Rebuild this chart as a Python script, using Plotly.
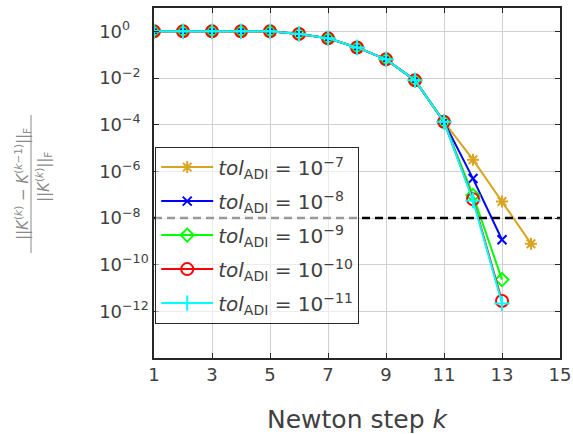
import plotly.graph_objects as go

steps_base = [1, 2, 3, 4, 5, 6, 7, 8, 9, 10, 11]
# log10 of relative change for the common part of the iteration
base_log = [0.0, 0.0, 0.0, 0.0, 0.0, -0.11, -0.3, -0.69, -1.2, -2.1, -3.88]

tail_steps = {
    "1e-7": [12, 13, 14],
    "1e-8": [12, 13],
    "1e-9": [12, 13],
    "1e-10": [12, 13],
    "1e-11": [12, 13],
}
tail_log = {
    "1e-7": [-5.5, -7.29, -9.1],
    "1e-8": [-6.31, -8.93],
    "1e-9": [-7.03, -10.64],
    "1e-10": [-7.2, -11.56],
    "1e-11": [-7.25, -11.66],
}
exponents = {"1e-7": "7", "1e-8": "8", "1e-9": "9", "1e-10": "10", "1e-11": "11"}
colors = {"1e-7": "#D9A521", "1e-8": "#0000FF", "1e-9": "#00FF00",
          "1e-10": "#FF0000", "1e-11": "#00FFFF"}
symbols = {"1e-7": "asterisk-open", "1e-8": "x-thin-open", "1e-9": "diamond-open",
           "1e-10": "circle-open", "1e-11": "cross-thin-open"}
msize = {"1e-7": 10, "1e-8": 9, "1e-9": 10, "1e-10": 12, "1e-11": 11}

threshold = 1e-8
x_ticks = [1, 3, 5, 7, 9, 11, 13, 15]
y_exps = [0, -2, -4, -6, -8, -10, -12]
# padding in superscripts so the tick labels look left-aligned like the reference
y_pad = {0: "\u2007\u2007\u2009", -2: "\u2007", -4: "\u2007", -6: "\u2007", -8: "\u2007", -10: "", -12: ""}

fig = go.Figure()

for key in ["1e-7", "1e-8", "1e-9", "1e-10", "1e-11"]:
    xs = steps_base + tail_steps[key]
    ys = [10 ** v for v in base_log + tail_log[key]]
    fig.add_trace(go.Scatter(
        x=xs, y=ys, mode="lines+markers", legendgroup=key,
        name="<i>tol</i><sub>ADI</sub> = 10<sup>−" + exponents[key] + "</sup>",
        line=dict(color=colors[key], width=2),
        marker=dict(symbol=symbols[key], size=msize[key],
                    line=dict(color=colors[key], width=2), color=colors[key]),
    ))

fig.add_trace(go.Scatter(
    x=[1, 15], y=[threshold, threshold], mode="lines", showlegend=False,
    line=dict(color="black", width=2.5, dash="8px,5px"),
))

font_main = "DejaVu Sans"
fig.update_layout(
    width=573, height=434,
    margin=dict(l=154, r=13, t=8, b=76, autoexpand=False),
    paper_bgcolor="white", plot_bgcolor="white",
    font=dict(family=font_main, color="#404040", size=18),
    legend=dict(
        x=0.003, y=0.604, xanchor="left", yanchor="top",
        bgcolor="rgba(255,255,255,0.6)", bordercolor="#262626", borderwidth=1,
        font=dict(size=20, color="#404040"),
        tracegroupgap=5, itemwidth=52,
    ),
    xaxis=dict(
        range=[1, 15], tickvals=x_ticks, ticktext=[str(v) for v in x_ticks],
        showgrid=True, gridcolor="#d0d0d0", gridwidth=1,
        showline=True, linecolor="#262626", linewidth=1.5, mirror="ticks",
        ticks="inside", ticklen=5, tickcolor="#262626",
        zeroline=False, automargin=False,
        title=dict(text="Newton step <i>k</i>", font=dict(size=25, color="#404040"), standoff=28),
    ),
    yaxis=dict(
        type="log", range=[-14, 1],
        tickvals=[10 ** e for e in y_exps],
        ticktext=["10<sup>" + (str(e) if e == 0 else "−" + str(-e)) + y_pad[e] + "</sup>" for e in y_exps],
        showgrid=True, gridcolor="#d0d0d0", gridwidth=1,
        showline=True, linecolor="#262626", linewidth=1.5, mirror="ticks",
        ticks="inside", ticklen=5, tickcolor="#262626",
        zeroline=False, automargin=False,
    ),
)

label_color = "#8a8a8a"
fig.add_annotation(
    xref="paper", yref="paper", x=(22 - 154) / 406, y=(358 - 184) / 350,
    text="||<i>K</i><sup>(<i>k</i>)</sup> − <i>K</i><sup>(<i>k</i>−1)</sup>||<sub>F</sub>",
    textangle=-90, showarrow=False, font=dict(size=15, color=label_color),
    xanchor="center", yanchor="middle",
)
fig.add_annotation(
    xref="paper", yref="paper", x=(43 - 154) / 406, y=(358 - 177) / 350,
    text="||<i>K</i><sup>(<i>k</i>)</sup>||<sub>F</sub>",
    textangle=-90, showarrow=False, font=dict(size=15, color=label_color),
    xanchor="center", yanchor="middle",
)
fig.add_shape(
    type="line", xref="paper", yref="paper",
    x0=(31 - 154) / 406, x1=(31 - 154) / 406,
    y0=(358 - 253) / 350, y1=(358 - 115) / 350,
    line=dict(color=label_color, width=1),
)

fig.write_html("out.html")
